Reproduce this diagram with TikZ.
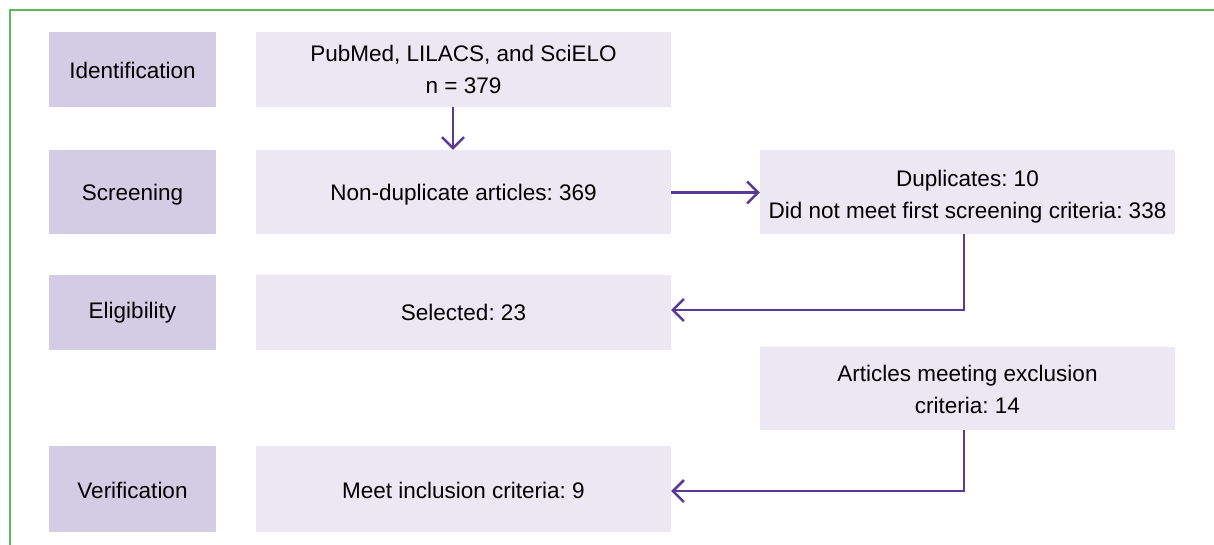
\documentclass[tikz,border=0pt]{standalone}
\usepackage{fontspec}
\setmainfont{Liberation Sans}
\usetikzlibrary{arrows.meta}
\definecolor{stagefill}{HTML}{D4CCE4}
\definecolor{boxfill}{HTML}{EBE7F3}
\definecolor{arrowcol}{HTML}{5A3A98}
\definecolor{framegreen}{HTML}{5DB85B}
\newcommand{\twolines}[2]{\begin{tabular}{@{}c@{}}#1\\#2\end{tabular}}
\newcommand{\lowerby}[2]{\raisebox{-#1}[\height][\depth]{#2}}
\begin{document}
\frenchspacing
\begin{tikzpicture}[x=1pt,y=-1pt,
  stagebox/.style={fill=stagefill, draw=none, inner sep=0pt, align=center,
    minimum width=167pt, font=\fontsize{22.5}{32}\selectfont\frenchspacing},
  infobox/.style={fill=boxfill, draw=none, inner sep=0pt, align=center,
    minimum width=415pt, font=\fontsize{22.5}{32}\selectfont\frenchspacing},
  arr/.style={draw=arrowcol, line width=2.5pt,
    -{Straight Barb[length=11pt,width=22pt]}}]
\useasboundingbox (0,0) rectangle (1214,545);
% frame
\draw[framegreen, line width=2pt] (9.5,546) -- (9.5,10) -- (1215,10);
% stage labels
\node[stagebox, minimum height=75pt] (idL) at (132.5,69.5) {\lowerby{1pt}{Identification}};
\node[stagebox, minimum height=84pt] (scrL) at (132.5,192) {\lowerby{3pt}{Screening}};
\node[stagebox, minimum height=75pt] (eliL) at (132.5,312.5) {Eligibility};
\node[stagebox, minimum height=86pt] (verL) at (132.5,489) {\lowerby{1pt}{Verification}};
% middle column
\node[infobox, minimum height=75pt] (pub) at (463.5,69.5) {\lowerby{2pt}{\twolines{PubMed, LILACS, and SciELO}{n = 379}}};
\node[infobox, minimum height=84pt] (nondup) at (463.5,192) {\lowerby{3pt}{Non-duplicate articles: 369}};
\node[infobox, minimum height=75pt] (sel) at (463.5,312.5) {Selected: 23};
\node[infobox, minimum height=86pt] (incl) at (463.5,489) {\lowerby{1pt}{Meet inclusion criteria: 9}};
% right column
\node[infobox, minimum height=84pt] (dup) at (967.5,192) {\lowerby{4pt}{\twolines{Duplicates: 10}{Did not meet first screening criteria: 338}}};
\node[infobox, minimum height=83pt] (excl) at (967.5,388.5) {\lowerby{3pt}{\twolines{Articles meeting exclusion}{criteria: 14}}};
% connectors
\draw[arr] ([xshift=-10.5pt]pub.south) -- ([xshift=-10.5pt]nondup.north);
\draw[arr] ([yshift=-0.5pt]nondup.east) -- ([yshift=-0.5pt]dup.west);
\draw[arr] ([xshift=-3.5pt]dup.south) |- ([yshift=2.5pt]sel.east);
\draw[arr] ([xshift=-3.5pt]excl.south) |- ([yshift=-2pt]incl.east);
\end{tikzpicture}
\end{document}
